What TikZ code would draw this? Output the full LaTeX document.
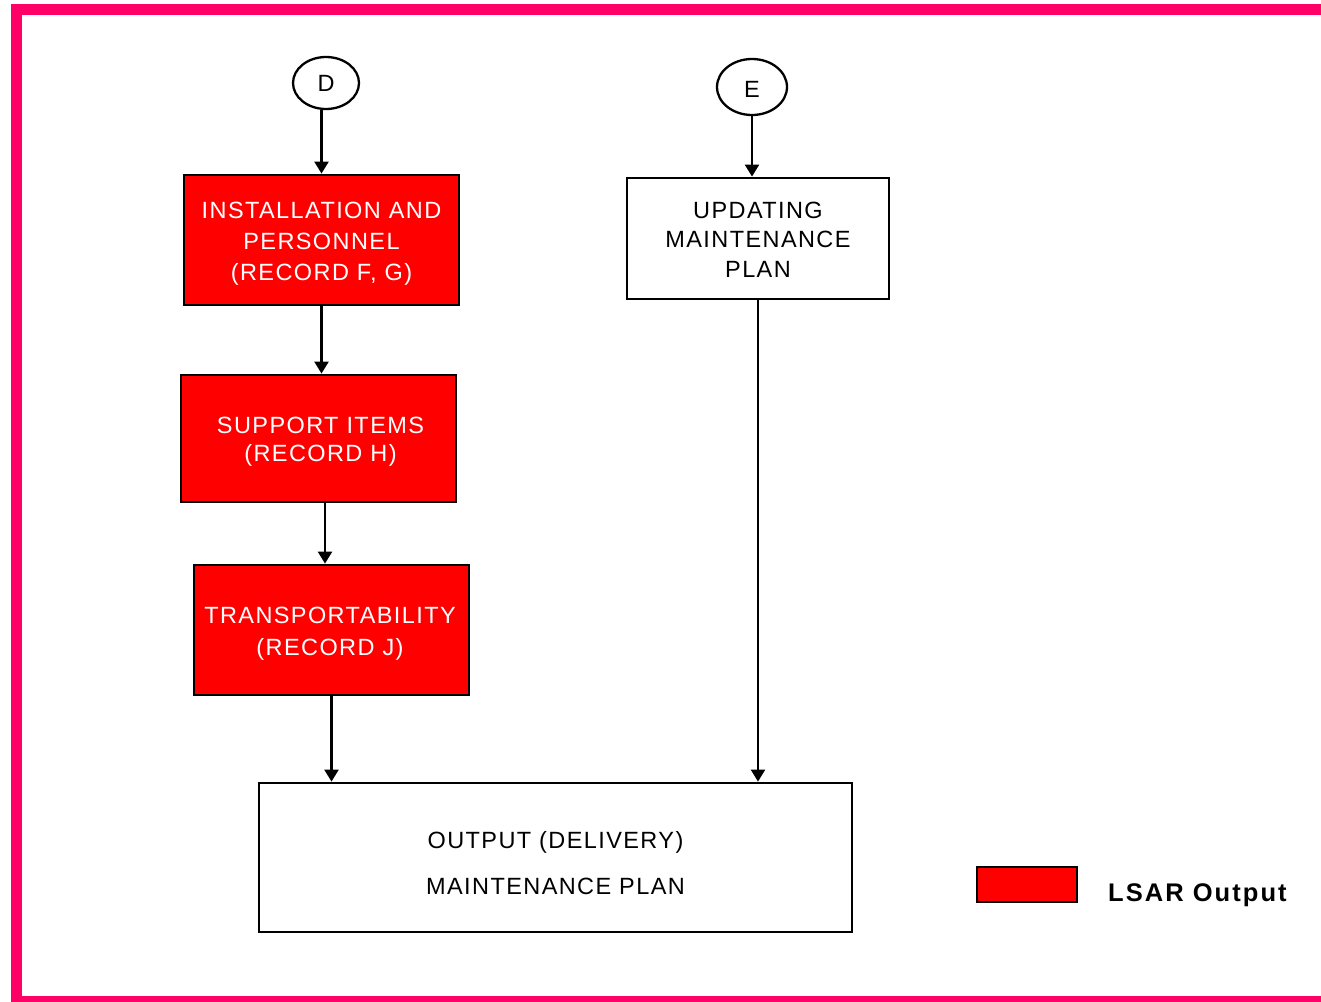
\documentclass[tikz,border=0pt]{standalone}
\usepackage{fontspec}
\setmainfont{Liberation Sans}
\newfontfamily\boxfont[LetterSpace=6]{Liberation Sans}
\newfontfamily\legendfont[LetterSpace=8]{Liberation Sans}
\usetikzlibrary{arrows.meta,shapes.geometric}
\definecolor{framepink}{HTML}{FF0066}
\definecolor{lsarred}{HTML}{FF0000}
\begin{document}
\begin{tikzpicture}[x=1pt,y=-1pt,
  redbox/.style={draw=black,line width=2.8pt,fill=lsarred,inner sep=0pt},
  whitebox/.style={draw=black,line width=2.8pt,fill=white,inner sep=0pt},
  txt/.style={anchor=base,inner sep=0pt,font=\boxfont\fontsize{23.5}{28}\selectfont},
  wtxt/.style={txt,text=white},
  flow/.style={line width=2.3pt,-{Triangle[length=12pt,width=14pt]}}]
\useasboundingbox (0,0) rectangle (1321,1001);
% outer frame, open on the right
\draw[framepink,line width=11pt] (1340,9.5) -- (16.5,9.5) -- (16.5,1001.5) -- (1340,1001.5);

% connectors D and E
\node[draw,line width=2.3pt,ellipse,minimum width=66pt,minimum height=52pt,inner sep=0pt] (d) at (326,83) {};
\node[txt] (dt) at (326,91) {D};
\node[draw,line width=2.3pt,ellipse,minimum width=70pt,minimum height=56pt,inner sep=0pt] (e) at (752,87) {};
\node[txt] (et) at (752,97.5) {E};

% LSAR output records
\node[redbox,minimum width=275pt,minimum height=130pt] (b1) at (321.5,240) {};
\node[wtxt] (b1a) at (321.5,218.5) {INSTALLATION AND};
\node[wtxt] (b1b) at (321.5,249.5) {PERSONNEL};
\node[wtxt] (b1c) at (321.5,280.5) {(RECORD F, G)};

\node[redbox,minimum width=275pt,minimum height=127pt] (b2) at (318.5,438.5) {};
\node[wtxt] (b2a) at (320.5,433.5) {SUPPORT ITEMS};
\node[wtxt] (b2b) at (320.5,461.5) {(RECORD H)};

\node[redbox,minimum width=275pt,minimum height=130pt] (b3) at (331.5,630) {};
\node[wtxt] (b3a) at (330,623.5) {TRANSPORTABILITY};
\node[wtxt] (b3b) at (330,655.5) {(RECORD J)};

% plan boxes
\node[whitebox,minimum width=262pt,minimum height=121pt] (b4) at (758,238.5) {};
\node[txt] (b4a) at (758,218.5) {UPDATING};
\node[txt] (b4b) at (758,247) {MAINTENANCE};
\node[txt] (b4c) at (758,277.5) {PLAN};

\node[whitebox,minimum width=593pt,minimum height=149pt] (b5) at (555.5,857.5) {};
\node[txt] (b5a) at (555.5,848.5) {OUTPUT (DELIVERY)};
\node[txt] (b5b) at (555.5,894.5) {MAINTENANCE PLAN};

% legend
\node[draw=black,line width=2.8pt,fill=lsarred,minimum width=100pt,minimum height=35pt,inner sep=0pt] (leg) at (1027,884.5) {};
\node[anchor=base west,inner sep=0pt,font=\legendfont\fontsize{25.5}{30}\selectfont\bfseries] (legtxt) at (1108,901) {LSAR Output};

% flow arrows
\draw[flow] (d.south -| b1.north) -- (b1.north);
\draw[flow] (b1.south) -- (b1.south |- b2.north);
\draw[flow] ([xshift=6.5pt]b2.south) -- ([xshift=6.5pt]b2.south |- b3.north);
\draw[flow] (b3.south) -- (b3.south |- b5.north);
\draw[flow] (e.south) -- (e.south |- b4.north);
\draw[flow] (b4.south) -- (b4.south |- b5.north);
\end{tikzpicture}
\end{document}
